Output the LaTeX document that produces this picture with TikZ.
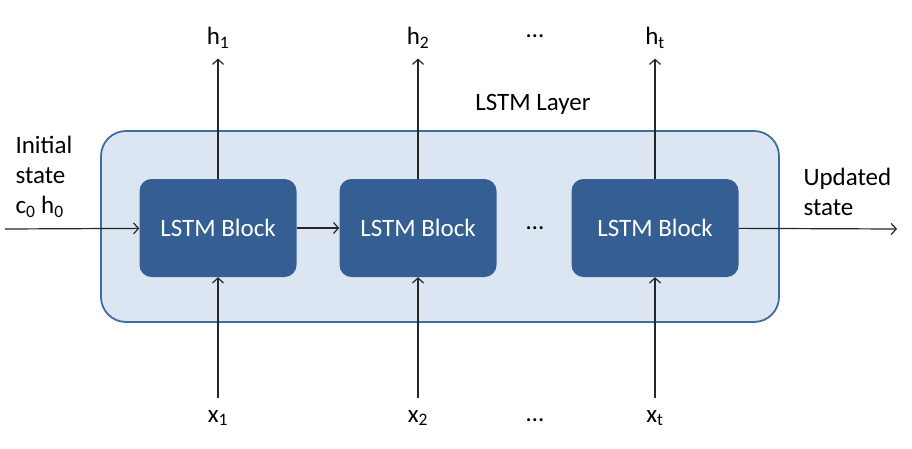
\documentclass[tikz,border=0pt]{standalone}
\usepackage{fontspec}
\setmainfont{Carlito}
\usetikzlibrary{positioning,arrows.meta}
\definecolor{layer}{HTML}{DCE6F2}
\definecolor{layerline}{HTML}{3D6EA0}
\definecolor{block}{HTML}{355E93}

\begin{document}
\begin{tikzpicture}[x=1pt,y=-1pt,font=\fontsize{25}{30}\selectfont]
    \tikzstyle{lstm}=[fill=block, text=white, rounded corners=12pt, minimum width=157pt, minimum height=98pt, node distance=200pt, on grid]
    \tikzstyle{hout}=[inner sep=0pt, outer sep=10pt, node distance=190pt, on grid]
    \tikzstyle{xin}=[inner sep=0pt, outer sep=12pt, node distance=190pt, on grid]
    \tikzstyle{flow}=[line width=1.2pt, draw=black!85, -{Straight Barb[length=5pt,width=11pt]}]
    \useasboundingbox (0,0) rectangle (912,448);
    \node[draw=layerline, line width=1.8pt, fill=layer, rounded corners=25pt, minimum width=678pt, minimum height=191pt] (layer) at (440,226.5) {};
    \node (layername) at (533,104) {LSTM Layer};
    \node[lstm] (block1) at (218,228) {LSTM Block};
    \node[lstm,right=of block1] (block2) {LSTM Block};
    \node[lstm,minimum width=167pt,right=237pt of block2] (block3) {LSTM Block};
    \node[on grid,right=117pt of block2] (dotsmid) {\dots};
    \node[hout,above=of block1] (h1) {h\textsubscript{1}};
    \node[hout,above=of block2] (h2) {h\textsubscript{2}};
    \node[hout,above=of block3] (ht) {h\textsubscript{t}};
    \node[hout,above=192pt of dotsmid] (dotstop) {\dots};
    \node[xin,below=of block1] (x1) {x\textsubscript{1}};
    \node[xin,below=of block2] (x2) {x\textsubscript{2}};
    \node[xin,below=of block3] (xt) {x\textsubscript{t}};
    \node[xin,below=192pt of dotsmid] (dotsbot) {\dots};
    \node[anchor=north west, align=left] (initial) at (12,133) {Initial\\state\\c\textsubscript{0} h\textsubscript{0}};
    \node[anchor=north west, align=left] (updated) at (800,165) {Updated\\state};
    \coordinate (in) at (5,229);
    \coordinate (out) at (897,229);
    \draw[flow] (in) -- (block1);
    \draw[flow] (block1) -- (block2);
    \draw[flow] (block3) -- (out);
    \draw[flow] (block1) -- (h1);
    \draw[flow] (block2) -- (h2);
    \draw[flow] (block3) -- (ht);
    \draw[flow] (x1) -- (block1);
    \draw[flow] (x2) -- (block2);
    \draw[flow] (xt) -- (block3);
\end{tikzpicture}
\end{document}
